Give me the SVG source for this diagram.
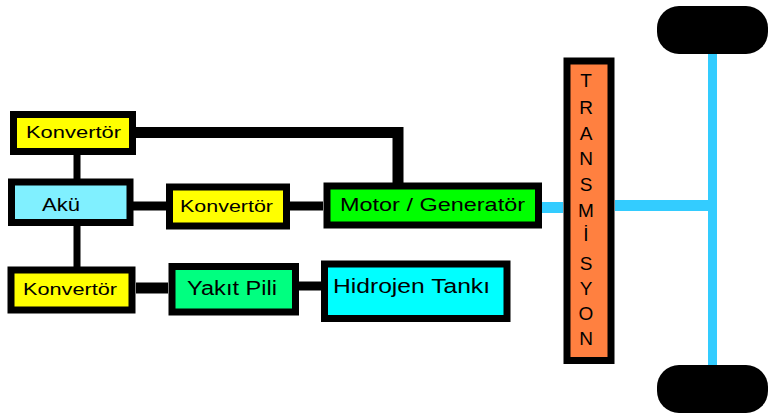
<svg xmlns="http://www.w3.org/2000/svg" width="781" height="416" viewBox="0 0 781 416">
<style>
.box{stroke:#000;stroke-width:7}
.lbl{font-family:"Liberation Sans",Arial,sans-serif;fill:#000}
.k{fill:#ffff00}
.blk{stroke:#000;fill:none}
.cy{stroke:#33ccff;fill:none}
</style>
<rect width="781" height="416" fill="#fff"/>
<g id="connectors">
<polyline class="blk" stroke-width="11" points="136,132.5 398,132.5 398,183"/>
<line class="blk" stroke-width="7" x1="77" y1="155" x2="77" y2="179"/>
<line class="blk" stroke-width="9" x1="133" y1="206" x2="166" y2="206"/>
<line class="blk" stroke-width="9" x1="290" y1="206" x2="323" y2="206"/>
<line class="blk" stroke-width="7" x1="77" y1="226" x2="77" y2="267"/>
<line class="blk" stroke-width="11" x1="136" y1="288" x2="168" y2="288"/>
<line class="blk" stroke-width="9" x1="299" y1="286" x2="321" y2="286"/>
<line class="cy" stroke-width="11" x1="542" y1="207.5" x2="563" y2="207.5"/>
<line class="cy" stroke-width="11" x1="615" y1="205.5" x2="712" y2="205.5"/>
<line class="cy" stroke-width="9" x1="712.5" y1="50" x2="712.5" y2="366"/>
</g>
<g id="konvertor1">
<rect class="box k" x="13.5" y="114.5" width="119" height="37"/>
<text class="lbl" x="26" y="138" font-size="17" textLength="95" lengthAdjust="spacingAndGlyphs">Konvertör</text>
</g>
<g id="aku">
<rect class="box" fill="#80f0ff" x="11.5" y="182" width="118.5" height="40.5"/>
<text class="lbl" x="42" y="211" font-size="18" textLength="38" lengthAdjust="spacingAndGlyphs">Akü</text>
</g>
<g id="konvertor2">
<rect class="box k" x="169.5" y="187" width="117" height="39"/>
<text class="lbl" x="180" y="212" font-size="17" textLength="93" lengthAdjust="spacingAndGlyphs">Konvertör</text>
</g>
<g id="konvertor3">
<rect class="box k" x="11" y="270" width="121" height="40"/>
<text class="lbl" x="23" y="295" font-size="17" textLength="94" lengthAdjust="spacingAndGlyphs">Konvertör</text>
</g>
<g id="motor">
<rect class="box" fill="#00ff00" x="327" y="186" width="211.5" height="39"/>
<text class="lbl" x="340" y="211" font-size="19" textLength="185" lengthAdjust="spacingAndGlyphs">Motor / Generatör</text>
</g>
<g id="yakit">
<rect class="box" fill="#00ff80" x="172" y="266.5" width="123.5" height="45.5"/>
<text class="lbl" x="187" y="295" font-size="20" textLength="90" lengthAdjust="spacingAndGlyphs">Yakıt Pili</text>
</g>
<g id="hidrojen">
<rect class="box" fill="#00ffff" x="324.5" y="264" width="182.5" height="54.5"/>
<text class="lbl" x="333" y="293" font-size="20" textLength="157" lengthAdjust="spacingAndGlyphs">Hidrojen Tankı</text>
</g>
<g id="transmisyon">
<rect class="box" fill="#ff8040" x="567" y="61" width="44" height="299.5"/>
<g class="lbl" font-size="19" text-anchor="middle">
<text x="586" y="87">T</text>
<text x="586" y="114">R</text>
<text x="586" y="140">A</text>
<text x="586" y="165">N</text>
<text x="586" y="191">S</text>
<text x="586" y="217">M</text>
<text x="586" y="241">İ</text>
<text x="586" y="270">S</text>
<text x="586" y="295">Y</text>
<text x="586" y="320">O</text>
<text x="586" y="345">N</text>
</g>
</g>
<g id="wheel-top">
<rect x="657" y="6" width="111" height="48" rx="22" fill="#000"/>
</g>
<g id="wheel-bottom">
<rect x="657" y="365" width="111" height="48" rx="22" fill="#000"/>
</g>
</svg>
